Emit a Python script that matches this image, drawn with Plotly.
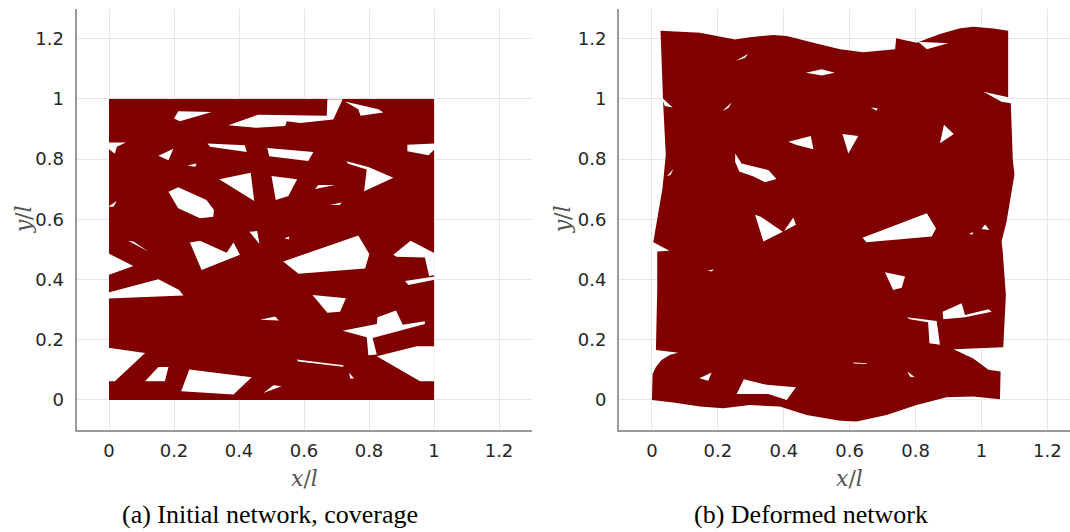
import plotly.graph_objects as go

# ---------------- data (x/l, y/l) ----------------
tick_vals = [0, 0.2, 0.4, 0.6, 0.8, 1.0, 1.2]
tick_text = ["0", "0.2", "0.4", "0.6", "0.8", "1", "1.2"]

# (a) initial network: covered square with uncovered (white) pores
initial_outline = [(0, 0), (1, 0), (1, 1), (0, 1)]
initial_pores = [
    [(0.213, 0.959), (0.316, 0.957), (0.218, 0.926), (0.200, 0.935)],
    [(0.367, 0.913), (0.459, 0.948), (0.670, 0.944), (0.672, 0.999), (0.719, 0.999),
     (0.690, 0.932), (0.588, 0.920), (0.547, 0.926), (0.542, 0.910), (0.454, 0.904)],
    [(0.726, 0.992), (0.829, 0.966), (0.844, 0.955), (0.774, 0.944), (0.767, 0.966)],
    [(-0.002, 0.855), (0.052, 0.855), (0.024, 0.841), (0.018, 0.818), (-0.002, 0.835)],
    [(0.152, 0.811), (0.198, 0.835), (0.183, 0.796)],
    [(0.303, 0.852), (0.418, 0.846), (0.424, 0.824), (0.311, 0.841)],
    [(0.487, 0.837), (0.629, 0.824), (0.613, 0.794), (0.493, 0.810)],
    [(0.918, 0.848), (1.002, 0.852), (1.002, 0.833), (0.983, 0.813), (0.918, 0.826)],
    [(0.241, 0.779), (0.270, 0.786), (0.265, 0.775)],
    [(0.731, 0.793), (0.798, 0.774), (0.875, 0.738), (0.785, 0.693), (0.793, 0.766), (0.736, 0.785)],
    [(0.339, 0.733), (0.436, 0.755), (0.447, 0.661)],
    [(0.500, 0.744), (0.579, 0.733), (0.552, 0.678), (0.513, 0.664)],
    [(0.634, 0.701), (0.695, 0.714), (0.644, 0.714)],
    [(0.183, 0.692), (0.213, 0.707), (0.300, 0.664), (0.323, 0.631), (0.321, 0.609),
     (0.280, 0.604), (0.213, 0.637)],
    [(-0.002, 0.642), (0.024, 0.662), (0.014, 0.642)],
    [(0.042, 0.650), (0.067, 0.640), (0.055, 0.647)],
    [(0.680, 0.648), (0.716, 0.656), (0.710, 0.648)],
    [(0.432, 0.559), (0.456, 0.561), (0.463, 0.518)],
    [(0.059, 0.529), (0.121, 0.493), (0.075, 0.526)],
    [(0.249, 0.523), (0.280, 0.529), (0.362, 0.489), (0.383, 0.523), (0.403, 0.482), (0.285, 0.432)],
    [(0.540, 0.537), (0.555, 0.543), (0.553, 0.533)],
    [(0.536, 0.460), (0.767, 0.546), (0.801, 0.485), (0.788, 0.437), (0.583, 0.419)],
    [(0.875, 0.482), (0.928, 0.529), (1.002, 0.487), (1.002, 0.415), (0.985, 0.412),
     (0.972, 0.473), (0.885, 0.476)],
    [(0.911, 0.395), (0.983, 0.406), (1.002, 0.410), (1.002, 0.399), (0.921, 0.382)],
    [(-0.002, 0.487), (0.075, 0.445), (-0.002, 0.415)],
    [(-0.002, 0.357), (0.152, 0.401), (0.216, 0.365), (0.229, 0.347), (-0.002, 0.337)],
    [(0.626, 0.349), (0.729, 0.338), (0.711, 0.293), (0.672, 0.290)],
    [(0.465, 0.266), (0.511, 0.277), (0.523, 0.264)],
    [(0.719, 0.230), (0.824, 0.252), (0.826, 0.275), (0.883, 0.297), (0.904, 0.250),
     (0.972, 0.261), (0.972, 0.252), (0.811, 0.206), (0.793, 0.208)],
    [(0.793, 0.208), (0.811, 0.206), (0.824, 0.151), (0.798, 0.148)],
    [(0.824, 0.145), (0.947, 0.178), (1.002, 0.178), (1.002, 0.062), (0.957, 0.062)],
    [(-0.002, 0.173), (0.111, 0.156), (0.018, 0.062), (-0.002, 0.062)],
    [(0.111, 0.062), (0.152, 0.109), (0.183, 0.109), (0.172, 0.062)],
    [(0.247, 0.101), (0.439, 0.075), (0.383, 0.018), (0.222, 0.029)],
    [(0.475, 0.023), (0.506, 0.049), (0.531, 0.045)],
    [(0.577, 0.134), (0.721, 0.115), (0.721, 0.110), (0.583, 0.128)],
    [(0.739, 0.090), (0.754, 0.071), (0.742, 0.071)],
]

# (b) deformed network: wavy outline with remaining pores
deformed_outline = [
    (0.026, 1.227), (0.146, 1.220), (0.252, 1.198), (0.297, 1.205), (0.368, 1.213),
    (0.409, 1.209), (0.490, 1.187), (0.571, 1.165), (0.641, 1.155), (0.712, 1.161),
    (0.738, 1.165), (0.741, 1.202), (0.803, 1.187), (0.874, 1.216), (0.935, 1.235),
    (0.975, 1.240), (1.036, 1.234), (1.081, 1.227),
    (1.081, 1.006), (1.006, 1.024), (1.061, 0.991), (1.089, 0.986), (1.095, 0.797),
    (1.100, 0.749), (1.076, 0.592), (1.061, 0.526), (1.064, 0.498), (1.074, 0.349),
    (1.066, 0.175), (0.915, 0.168), (0.975, 0.138), (1.021, 0.100), (1.058, 0.094),
    (1.056, 0.002),
    (0.975, 0.011), (0.894, 0.009), (0.803, -0.017), (0.712, -0.050), (0.621, -0.072),
    (0.571, -0.069), (0.469, -0.050), (0.388, -0.022), (0.297, -0.017), (0.216, -0.028),
    (0.146, -0.022), (0.065, -0.009), (0.0, 0.0),
    (0.002, 0.086), (0.012, 0.109), (0.029, 0.133), (0.055, 0.150), (0.080, 0.157),
    (0.012, 0.166), (0.016, 0.365), (0.016, 0.493), (0.053, 0.496), (0.004, 0.524),
    (0.032, 0.703), (0.042, 0.814), (0.034, 0.986),
]
deformed_pores = [
    [(0.255, 1.127), (0.292, 1.150), (0.282, 1.136)],
    [(0.467, 1.087), (0.515, 1.099), (0.555, 1.087), (0.515, 1.078)],
    [(0.808, 1.190), (0.899, 1.185), (0.834, 1.165), (0.823, 1.176)],
    [(0.214, 0.961), (0.242, 0.988), (0.232, 0.970)],
    [(0.664, 0.972), (0.684, 0.969), (0.682, 0.961)],
    [(0.414, 0.858), (0.482, 0.877), (0.490, 0.833), (0.439, 0.847)],
    [(0.578, 0.884), (0.626, 0.877), (0.596, 0.819)],
    [(0.886, 0.914), (0.916, 0.884), (0.874, 0.853)],
    [(0.253, 0.819), (0.272, 0.786), (0.353, 0.764), (0.378, 0.734), (0.343, 0.723),
     (0.308, 0.742), (0.265, 0.759), (0.252, 0.792)],
    [(0.313, 0.615), (0.330, 0.609), (0.397, 0.559), (0.338, 0.526)],
    [(0.401, 0.561), (0.429, 0.606), (0.437, 0.582)],
    [(0.639, 0.539), (0.834, 0.620), (0.862, 0.570), (0.849, 0.543), (0.651, 0.524)],
    [(1.000, 0.568), (1.011, 0.583), (1.024, 0.565)],
    [(0.963, 0.552), (0.975, 0.558), (0.972, 0.549)],
    [(0.707, 0.424), (0.768, 0.410), (0.758, 0.373), (0.732, 0.365)],
    [(0.169, 0.431), (0.188, 0.433), (0.181, 0.427)],
    [(0.773, 0.275), (0.864, 0.262), (0.874, 0.183), (0.842, 0.188), (0.838, 0.258), (0.783, 0.268)],
    [(0.882, 0.293), (0.940, 0.321), (0.950, 0.282), (1.021, 0.301), (1.031, 0.293),
     (0.950, 0.275), (0.884, 0.268)],
    [(0.144, 0.072), (0.181, 0.091), (0.171, 0.064)],
    [(0.279, 0.069), (0.348, 0.050), (0.437, 0.042), (0.409, 0.000), (0.353, 0.020), (0.257, 0.020)],
    [(0.526, -0.011), (0.550, 0.002), (0.538, -0.006)],
    [(0.775, 0.094), (0.783, 0.077), (0.798, 0.075)],
    [(0.611, 0.124), (0.652, 0.122), (0.652, 0.119), (0.611, 0.121)],
    [(0.029, 1.006), (0.063, 0.972), (0.039, 0.977)],
    [(0.045, 0.742), (0.065, 0.767), (0.057, 0.748)],
]

FIBER = "#800000"


def to_path(polys):
    xs, ys = [], []
    for poly in polys:
        for (a, b) in poly:
            xs.append(a)
            ys.append(b)
        xs.append(poly[0][0])
        ys.append(poly[0][1])
        xs.append(None)
        ys.append(None)
    return xs, ys


fig = go.Figure()

for outline, pores, xa, ya in [
    (initial_outline, initial_pores, "x", "y"),
    (deformed_outline, deformed_pores, "x2", "y2"),
]:
    ox, oy = to_path([outline])
    fig.add_trace(go.Scatter(x=ox, y=oy, mode="lines", fill="toself", fillcolor=FIBER,
                             line=dict(width=0), xaxis=xa, yaxis=ya,
                             hoverinfo="skip", showlegend=False))
    hx, hy = to_path(pores)
    fig.add_trace(go.Scatter(x=hx, y=hy, mode="lines", fill="toself", fillcolor="white",
                             line=dict(width=0), xaxis=xa, yaxis=ya,
                             hoverinfo="skip", showlegend=False))

W, H = 1070, 532
ydom = [1 - 430 / H, 1 - 8.7 / H]
tick_font = dict(family="DejaVu Sans", size=18, color="#262626")
grid = "#e6e6e6"
axline = "#9a9a9a"

common_x = dict(tickvals=tick_vals, ticktext=tick_text, showgrid=True, gridcolor=grid,
                gridwidth=1, zeroline=False, showline=True, linecolor=axline, linewidth=2,
                ticks="", tickfont=tick_font, ticklabelstandoff=3, fixedrange=True)
common_y = dict(tickvals=tick_vals, ticktext=tick_text, showgrid=True, gridcolor=grid,
                gridwidth=1, zeroline=False, showline=True, linecolor=axline, linewidth=2,
                ticks="", tickfont=tick_font, ticklabelstandoff=7, fixedrange=True)

fig.update_layout(
    width=W, height=H, margin=dict(l=0, r=0, t=0, b=0),
    paper_bgcolor="white", plot_bgcolor="white",
    xaxis=dict(domain=[76.5 / W, 531.5 / W], range=[-0.1, 1.3], anchor="y", **common_x),
    yaxis=dict(domain=ydom, range=[-0.1, 1.3], anchor="x", **common_y),
    xaxis2=dict(domain=[619 / W, 1.0], range=[-0.1, (W - 652) / 329.5], anchor="y2", **common_x),
    yaxis2=dict(domain=ydom, range=[-0.1, 1.3], anchor="x2", **common_y),
)

label_font = dict(family="DejaVu Serif", size=22, color="#555555")
cap_font = dict(family="Liberation Serif", size=26, color="black")
ann = [
    dict(text="<i>x</i>/<i>l</i>", x=0.6, xref="x", y=1 - 478 / H, yref="paper",
         showarrow=False, font=label_font, xanchor="center", yanchor="middle"),
    dict(text="<i>x</i>/<i>l</i>", x=0.6, xref="x2", y=1 - 478 / H, yref="paper",
         showarrow=False, font=label_font, xanchor="center", yanchor="middle"),
    dict(text="<i>y</i>/<i>l</i>", x=23 / W, xref="paper", y=0.6, yref="y", textangle=-90,
         showarrow=False, font=label_font, xanchor="center", yanchor="middle"),
    dict(text="<i>y</i>/<i>l</i>", x=562 / W, xref="paper", y=0.6, yref="y2", textangle=-90,
         showarrow=False, font=label_font, xanchor="center", yanchor="middle"),
    dict(text="(a) Initial network, coverage", x=270 / W, xref="paper", y=1 - 514 / H,
         yref="paper", showarrow=False, font=cap_font, xanchor="center", yanchor="middle"),
    dict(text="(b) Deformed network", x=811 / W, xref="paper", y=1 - 514 / H,
         yref="paper", showarrow=False, font=cap_font, xanchor="center", yanchor="middle"),
]
fig.update_layout(annotations=ann)

fig.write_html("out.html")
